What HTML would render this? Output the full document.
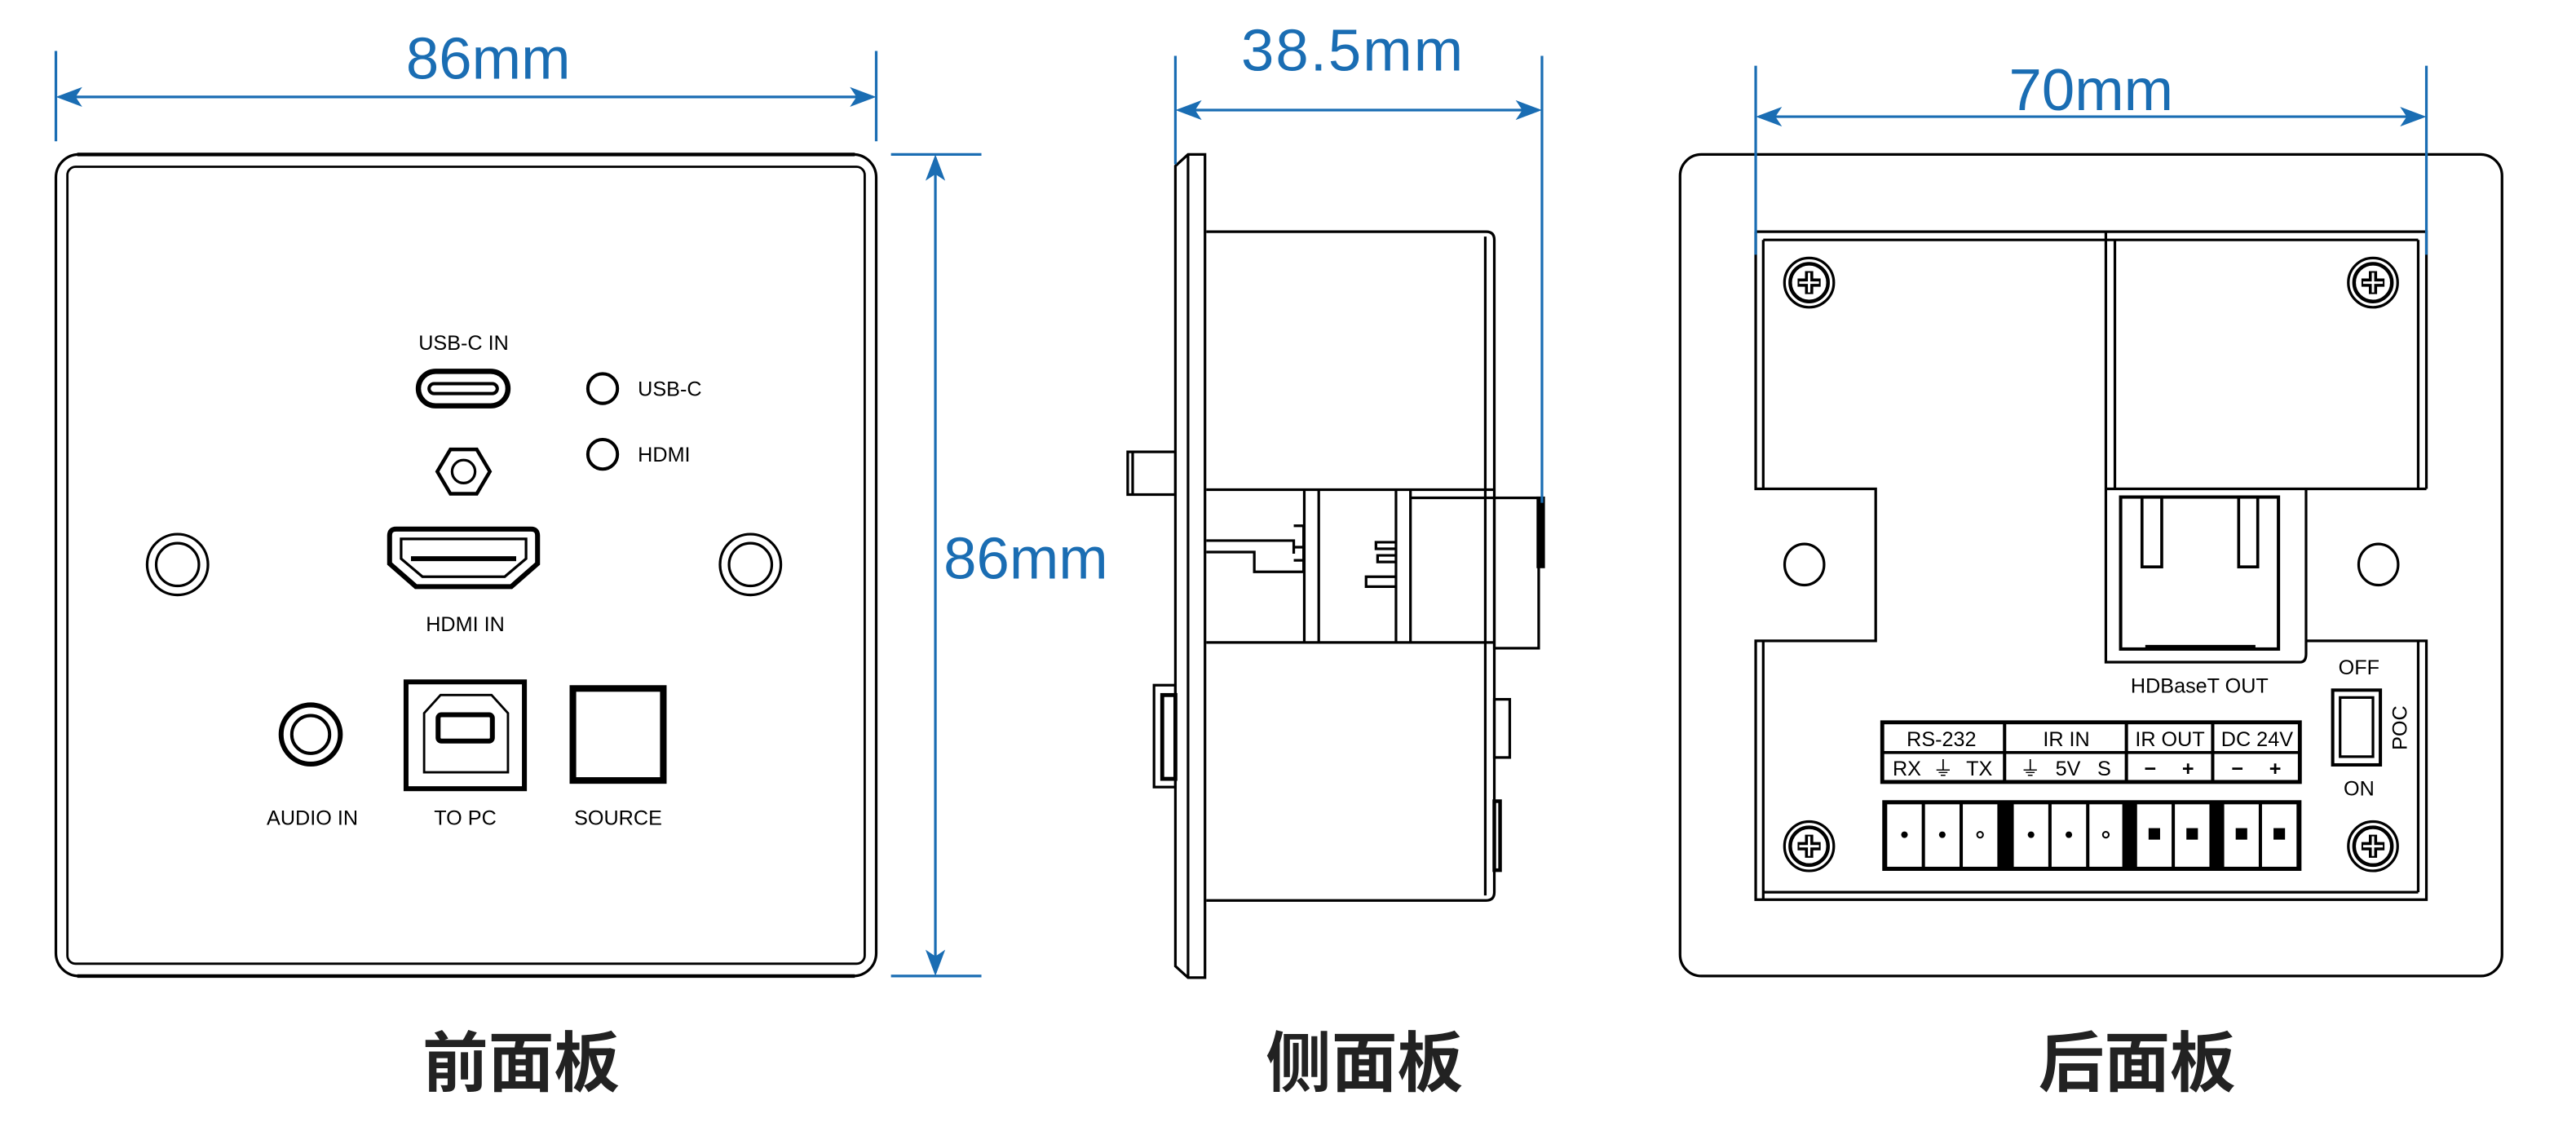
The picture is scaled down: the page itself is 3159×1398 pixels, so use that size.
<!DOCTYPE html>
<html><head><meta charset="utf-8"><style>
html,body{margin:0;padding:0;background:#fff;}
svg{display:block;}
text{font-family:"Liberation Sans","Noto Sans CJK SC",sans-serif;}
</style></head><body>
<svg width="3159" height="1398" viewBox="0 0 1567 693.8" preserveAspectRatio="none" xmlns="http://www.w3.org/2000/svg">
<rect x="0" y="0" width="1567" height="693.8" fill="#fff"/>
<g fill="none" stroke="#000" stroke-width="1.6">

<!-- ================= FRONT ================= -->
<rect x="34" y="94" width="499" height="500" rx="14"/>
<rect x="41" y="101.5" width="485" height="485" rx="5" stroke-width="1.4"/>
<line x1="47" y1="94" x2="520" y2="94" stroke-width="2.2"/>
<line x1="47" y1="594" x2="520" y2="594" stroke-width="2.2"/>
<rect x="254.5" y="226" width="54.5" height="21" rx="10.5" stroke-width="3.2"/>
<rect x="261" y="233.5" width="41.5" height="6" rx="3" stroke-width="2"/>
<circle cx="366.6" cy="236.5" r="9" stroke-width="2"/>
<circle cx="366.6" cy="276.5" r="9" stroke-width="2"/>
<polygon points="266,287 274,273.5 290,273.5 298,287 290,300.5 274,300.5" stroke-width="2.2"/>
<circle cx="282" cy="287" r="7" stroke-width="1.6"/>
<circle cx="108" cy="343.6" r="18.5"/>
<circle cx="108" cy="343.6" r="13"/>
<circle cx="456.5" cy="343.6" r="18.5"/>
<circle cx="456.5" cy="343.6" r="13"/>
<path d="M241,322 H323 Q327,322 327,326 V343 L311,357 H253 L237,343 V326 Q237,322 241,322 Z" stroke-width="3"/>
<path d="M244,328 H320 V340 L307,351 H257 L244,340 Z" stroke-width="1.6"/>
<line x1="250" y1="340" x2="314" y2="340" stroke-width="3"/>
<circle cx="189" cy="447" r="18" stroke-width="3"/>
<circle cx="189" cy="447" r="11.5" stroke-width="2"/>
<rect x="247" y="415" width="72" height="65" stroke-width="3"/>
<path d="M258,470 V434 L268,423 H299 L309,434 V470 Z" stroke-width="1.4"/>
<rect x="266.5" y="435" width="33" height="16" rx="2" stroke-width="3"/>
<rect x="348.5" y="419" width="55" height="56" stroke-width="4"/>

<!-- ================= SIDE ================= -->
<path d="M715,101 L722.7,94 H733 V595 H722.7 L715,588 Z"/>
<line x1="722.7" y1="94" x2="722.7" y2="595"/>
<path d="M733.8,141 H904 Q909,141 909,146 V543 Q909,548 904,548 H733.8"/>
<line x1="903.5" y1="144" x2="903.5" y2="545"/>
<line x1="733.8" y1="298" x2="909" y2="298"/>
<line x1="733.8" y1="391" x2="909" y2="391"/>
<line x1="793.4" y1="298" x2="793.4" y2="391"/>
<line x1="802.2" y1="298" x2="802.2" y2="391"/>
<line x1="849.2" y1="298" x2="849.2" y2="391"/>
<line x1="858" y1="298" x2="858" y2="391"/>
<line x1="858" y1="303" x2="909" y2="303"/>
<path d="M733.8,329 H787 V337 H787 M733.8,336 H763 V348 H793 V320 H787"/>
<path d="M787,333 H793 M787,341 H793"/>
<path d="M849,330 H837 V334 H849 M849,338 H838 V342 H849 M849,351 H831 V357 H849"/>
<rect x="909" y="303" width="27" height="91.5"/>
<rect x="935.5" y="303" width="3.5" height="42" fill="#000"/>
<rect x="686" y="275" width="29" height="26"/>
<line x1="689" y1="275" x2="689" y2="301"/>
<rect x="702" y="417" width="13" height="62"/>
<rect x="707" y="423" width="8" height="51" stroke-width="2.4"/>
<rect x="909" y="425.6" width="9.4" height="35.4"/>
<rect x="909" y="487.6" width="3.5" height="42" stroke-width="2.2"/>

<!-- ================= REAR ================= -->
<rect x="1022" y="94" width="500" height="500" rx="13"/>
<path d="M1068,141 H1476 V297.5 M1068,141 V297.5 H1141 V390 H1068 V547.5 H1476 V390 H1402.8"/>
<line x1="1072.6" y1="146" x2="1072.6" y2="297.5"/>
<line x1="1072.6" y1="390" x2="1072.6" y2="547.5"/>
<line x1="1471" y1="146" x2="1471" y2="297.5"/>
<line x1="1471" y1="390" x2="1471" y2="543"/>
<line x1="1072.6" y1="146" x2="1471" y2="146"/>
<line x1="1072.6" y1="543" x2="1471" y2="543"/>
<line x1="1281" y1="141" x2="1281" y2="297.5"/>
<line x1="1286.5" y1="146" x2="1286.5" y2="297.5"/>
<line x1="1281" y1="297.5" x2="1476" y2="297.5"/>
<path d="M1281,297.5 V403 H1399 Q1402.8,403 1402.8,398 V297.5"/>
<rect x="1290" y="302.5" width="96" height="92.5" stroke-width="2"/>
<rect x="1303" y="302.5" width="12" height="42.5" stroke-width="1.8"/>
<rect x="1361.8" y="302.5" width="11.6" height="42.5" stroke-width="1.8"/>
<line x1="1305" y1="394" x2="1372" y2="394" stroke-width="3"/>
<ellipse cx="1097.6" cy="343.6" rx="12" ry="12.5"/>
<ellipse cx="1446.8" cy="343.6" rx="12" ry="12.5"/>
<rect x="1419" y="420" width="29" height="45.5" stroke-width="2"/>
<rect x="1423.5" y="424.5" width="20" height="36" stroke-width="1.6"/>
<rect x="1145" y="439.6" width="254" height="36.3" stroke-width="2.4"/>
<line x1="1145" y1="458" x2="1399" y2="458" stroke-width="1.8"/>
<line x1="1219.4" y1="439.6" x2="1219.4" y2="476" stroke-width="2"/>
<line x1="1293.5" y1="439.6" x2="1293.5" y2="476" stroke-width="2"/>
<line x1="1346" y1="439.6" x2="1346" y2="476" stroke-width="2"/>
</g>

<g fill="none" stroke="#000">
<g transform="translate(1100.5,172)"><circle r="15" stroke-width="1.6"/><circle r="11.5" stroke-width="2.2"/><path d="M-7,0 H7 M0,-7 V7" stroke-width="5"/><path d="M-6,0 H6 M0,-6 V6" stroke="#fff" stroke-width="1.5"/></g>
<g transform="translate(1443.5,172)"><circle r="15" stroke-width="1.6"/><circle r="11.5" stroke-width="2.2"/><path d="M-7,0 H7 M0,-7 V7" stroke-width="5"/><path d="M-6,0 H6 M0,-6 V6" stroke="#fff" stroke-width="1.5"/></g>
<g transform="translate(1100.5,515)"><circle r="15" stroke-width="1.6"/><circle r="11.5" stroke-width="2.2"/><path d="M-7,0 H7 M0,-7 V7" stroke-width="5"/><path d="M-6,0 H6 M0,-6 V6" stroke="#fff" stroke-width="1.5"/></g>
<g transform="translate(1443.5,515)"><circle r="15" stroke-width="1.6"/><circle r="11.5" stroke-width="2.2"/><path d="M-7,0 H7 M0,-7 V7" stroke-width="5"/><path d="M-6,0 H6 M0,-6 V6" stroke="#fff" stroke-width="1.5"/></g>
</g>

<rect x="1145" y="487" width="255" height="43" fill="#000"/>
<g fill="#fff" stroke="none">
<rect x="1148" y="489.5" width="21" height="38"/><rect x="1171" y="489.5" width="21" height="38"/><rect x="1194" y="489.5" width="21" height="38"/>
<rect x="1225" y="489.5" width="21" height="38"/><rect x="1248" y="489.5" width="21" height="38"/><rect x="1271" y="489.5" width="20" height="38"/>
<rect x="1300" y="489.5" width="21" height="38"/><rect x="1323" y="489.5" width="21" height="38"/>
<rect x="1353" y="489.5" width="21" height="38"/><rect x="1376" y="489.5" width="21" height="38"/>
</g>
<g fill="#000">
<circle cx="1158.5" cy="508" r="2"/><circle cx="1181.5" cy="508" r="2"/><circle cx="1204.5" cy="508" r="1.8" fill="none" stroke="#000"/>
<circle cx="1235.5" cy="508" r="2"/><circle cx="1258.5" cy="508" r="2"/><circle cx="1281" cy="508" r="1.8" fill="none" stroke="#000"/>
<rect x="1307" y="504" width="7" height="7"/><rect x="1330" y="504" width="7" height="7"/>
<rect x="1360" y="504" width="7" height="7"/><rect x="1383" y="504" width="7" height="7"/>
</g>

<g stroke="#1a6db3" stroke-width="1.6" fill="none">
<line x1="34" y1="31" x2="34" y2="86"/><line x1="533" y1="31" x2="533" y2="86"/>
<line x1="36" y1="59" x2="531" y2="59"/>
<line x1="542" y1="94" x2="597" y2="94"/><line x1="542" y1="594" x2="597" y2="594"/>
<line x1="569" y1="96" x2="569" y2="592"/>
<line x1="715" y1="34" x2="715" y2="100"/><line x1="938" y1="34" x2="938" y2="306"/>
<line x1="717" y1="67" x2="936" y2="67"/>
<line x1="1068" y1="40" x2="1068" y2="155"/><line x1="1476" y1="40" x2="1476" y2="155"/>
<line x1="1070" y1="71" x2="1474" y2="71"/>
</g>
<g fill="#1a6db3">
<polygon points="34,59 50,53 46,59 50,65"/><polygon points="533,59 517,53 521,59 517,65"/>
<polygon points="569,94 563,110 569,106 575,110"/><polygon points="569,594 563,578 569,582 575,578"/>
<polygon points="715,67 731,61 727,67 731,73"/><polygon points="938,67 922,61 926,67 922,73"/>
<polygon points="1068,71 1084,65 1080,71 1084,77"/><polygon points="1476,71 1460,65 1464,71 1460,77"/>
</g>
<g fill="#1a6db3" font-size="36">
<text x="297" y="48" text-anchor="middle">86mm</text>
<text x="574" y="352">86mm</text>
<text x="823" y="43" text-anchor="middle" letter-spacing="1">38.5mm</text>
<text x="1272" y="67" text-anchor="middle">70mm</text>
</g>

<g fill="#000" font-size="12.5">
<text x="282" y="213" text-anchor="middle">USB-C IN</text>
<text x="388" y="241">USB-C</text>
<text x="388" y="281">HDMI</text>
<text x="283" y="384" text-anchor="middle">HDMI IN</text>
<text x="190" y="502" text-anchor="middle">AUDIO IN</text>
<text x="283" y="502" text-anchor="middle">TO PC</text>
<text x="376" y="502" text-anchor="middle">SOURCE</text>
<text x="1338" y="421.5" text-anchor="middle">HDBaseT OUT</text>
<text x="1435" y="410.5" text-anchor="middle">OFF</text>
<text x="1435" y="484" text-anchor="middle">ON</text>
<text transform="translate(1464,443) rotate(-90)" text-anchor="middle">POC</text>
</g>
<g fill="#000" font-size="12.5" text-anchor="middle">
<text x="1181" y="454">RS-232</text>
<text x="1257" y="454">IR IN</text>
<text x="1320" y="454">IR OUT</text>
<text x="1373" y="454">DC 24V</text>
<text x="1160" y="472">RX</text><text x="1182" y="472">⏚</text><text x="1204" y="472">TX</text>
<text x="1235" y="472">⏚</text><text x="1258" y="472">5V</text><text x="1280" y="472">S</text>
<text x="1308" y="472" font-weight="bold">−</text><text x="1331" y="472" font-weight="bold">+</text>
<text x="1361" y="472" font-weight="bold">−</text><text x="1384" y="472" font-weight="bold">+</text>
</g>
<g fill="#222" font-size="40" font-weight="bold" text-anchor="middle">
<text x="317" y="661" font-family="'Noto Sans CJK SC',sans-serif">前面板</text>
<text x="830" y="661" font-family="'Noto Sans CJK SC',sans-serif">侧面板</text>
<text x="1300" y="661" font-family="'Noto Sans CJK SC',sans-serif">后面板</text>
</g>
</svg>
</body></html>
